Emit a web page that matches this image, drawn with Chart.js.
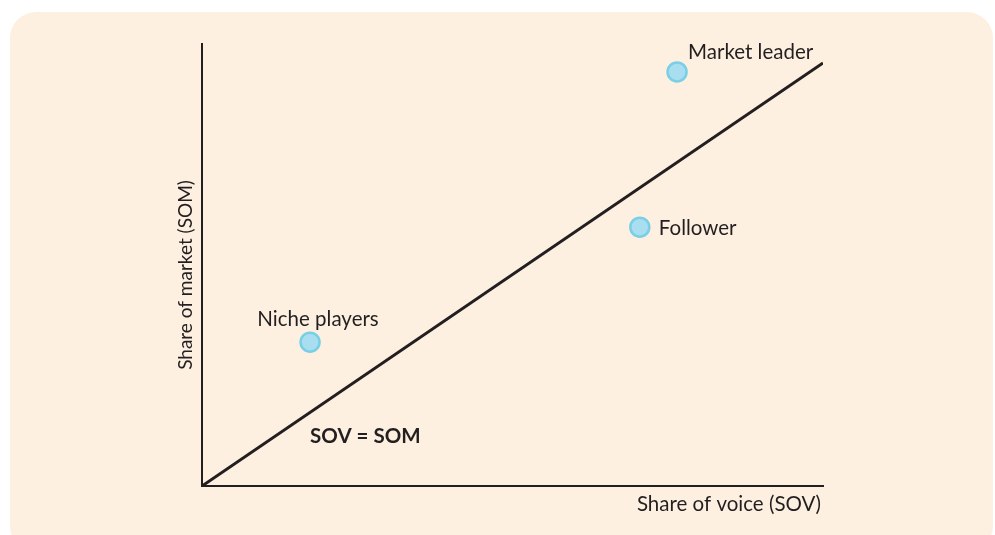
<!DOCTYPE html>
<html>
<head>
<meta charset="utf-8">
<script src="https://cdn.jsdelivr.net/npm/chart.js@4"></script>
<style>
  html, body { margin: 0; padding: 0; background: #ffffff; }
  #wrap { position: relative; width: 995px; height: 535px; overflow: hidden; }
  #panel { position: absolute; left: 10px; top: 12px; width: 983px; height: 540px;
           background: #fdf0e1; border-radius: 26px; }
  #chart { position: absolute; left: 0; top: 0; }
</style>
</head>
<body>
<div id="wrap">
  <div id="panel"></div>
  <canvas id="chart" width="995" height="535"></canvas>
</div>
<script>
// Posisi pemain (SOV, SOM)
const playerNames = ['Market leader', 'Follower', 'Niche players'];
const sovValues = [76.5, 70.5, 17.4];
const somValues = [97.9, 61.2, 34.0];

// Garis SOV = SOM
const equalLineX = [0, 100];
const equalLineY = [0, 100];

const xTitle = 'Share of voice (SOV)';
const yTitle = 'Share of market (SOM)';
const lineLabel = 'SOV = SOM';

const inkColor = '#231f20';
const fontFamily = 'Lato, "Open Sans", sans-serif';

// Plugin untuk label titik dan judul sumbu
const labelPlugin = {
  id: 'labels',
  afterDraw(chart) {
    const ctx = chart.ctx;
    const xs = chart.scales.x;
    const ys = chart.scales.y;
    const area = chart.chartArea;
    ctx.save();
    ctx.fillStyle = inkColor;
    ctx.font = '20.5px ' + fontFamily;
    ctx.textBaseline = 'middle';

    // label tiap titik
    const place = [
      { dx: 11, dy: -20, align: 'left' },
      { dx: 19, dy: 1, align: 'left' },
      { dx: 8, dy: -23, align: 'center' }
    ];
    playerNames.forEach((name, i) => {
      const px = xs.getPixelForValue(sovValues[i]);
      const py = ys.getPixelForValue(somValues[i]);
      ctx.textAlign = place[i].align;
      ctx.fillText(name, px + place[i].dx, py + place[i].dy);
    });

    // label garis
    ctx.font = 'bold 20.5px ' + fontFamily;
    ctx.textAlign = 'left';
    ctx.fillText(lineLabel, xs.getPixelForValue(17.4), ys.getPixelForValue(11.8));

    // judul sumbu
    ctx.font = '20.5px ' + fontFamily;
    ctx.textAlign = 'right';
    ctx.fillText(xTitle, area.right - 2, area.bottom + 18);

    ctx.font = '19px ' + fontFamily;
    ctx.translate(area.left - 16, 275);
    ctx.rotate(-Math.PI / 2);
    ctx.textAlign = 'center';
    ctx.fillText(yTitle, 0, 0);
    ctx.restore();
  }
};

const ctx = document.getElementById('chart').getContext('2d');
new Chart(ctx, {
  type: 'scatter',
  data: {
    datasets: [
      {
        type: 'line',
        data: equalLineX.map((x, i) => ({ x: x, y: equalLineY[i] })),
        borderColor: inkColor,
        borderWidth: 3,
        pointRadius: 0,
        fill: false
      },
      {
        data: sovValues.map((x, i) => ({ x: x, y: somValues[i] })),
        backgroundColor: '#a9ddf0',
        borderColor: '#78cfe6',
        borderWidth: 2.5,
        pointRadius: 9.5,
        pointHoverRadius: 9.5
      }
    ]
  },
  options: {
    responsive: false,
    animation: false,
    layout: { padding: { left: 202, right: 172, top: 44, bottom: 49 } },
    scales: {
      x: {
        type: 'linear', min: 0, max: 100,
        ticks: { display: false },
        grid: { display: false, drawTicks: false },
        border: { display: true, color: inkColor, width: 2 }
      },
      y: {
        type: 'linear', min: 0, max: 104.5,
        ticks: { display: false },
        grid: { display: false, drawTicks: false },
        border: { display: true, color: inkColor, width: 2 }
      }
    },
    plugins: {
      legend: { display: false },
      tooltip: { enabled: false }
    }
  },
  plugins: [labelPlugin]
});
</script>
</body>
</html>
